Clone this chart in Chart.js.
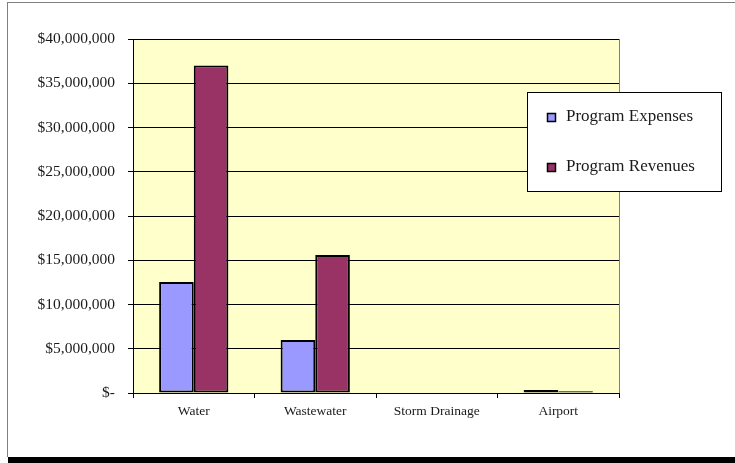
<!DOCTYPE HTML><html><head>
<meta name="viewport" content="width=device-width, initial-scale=1">
<style>
    html, body {
      margin: 0px;
      padding: 0px;
      background: #ffffff;
      overflow: hidden;
    }
    .frame {
      position: absolute;
      left: 7px;
      top: 2px;
      width: 800px;
      height: 454px;
      border-left: 1px solid #7f7f7f;
      border-top: 1px solid #7f7f7f;
    }
    .shadow {
      position: absolute;
      left: 8px;
      top: 457px;
      width: 800px;
      height: 6px;
      background: #000000;
    }
    .wrap {
      position: absolute;
      left: 0px;
      top: 0px;
      width: 735px;
      height: 463px;
    }
</style>
</head>
<body>

<div class="frame"></div>
<div class="shadow"></div>
<div class="wrap"><canvas id="myChart"></canvas></div>

<script src="https://cdn.jsdelivr.net/npm/chart.js@4/dist/chart.umd.min.js"></script>
<script>
// program totals in dollars
var categories = ['Water', 'Wastewater', 'Storm Drainage', 'Airport'];
var expenses = [12550000, 6000000, 0, 350000];
var revenues = [37000000, 15600000, 0, 200000];
var seriesNames = ['Program Expenses', 'Program Revenues'];
var seriesColors = ['#9999ff', '#993366'];
var yMax = 40000000;
var yStep = 5000000;

var serif = "'Liberation Serif', 'DejaVu Serif', serif";
var ink = '#1a1a1a';

function money(v) {
    if (v === 0) return '$-';
    return '$' + v.toLocaleString('en-US');
}

// yellow plot background with grey edge
var plotBack = {
    id: 'plotBack',
    beforeDraw: function(chart) {
        var a = chart.chartArea, c = chart.ctx;
        c.save();
        c.fillStyle = '#ffffcc';
        c.fillRect(a.left, a.top, a.right - a.left, a.bottom - a.top);
        c.strokeStyle = '#808080';
        c.lineWidth = 1;
        c.strokeRect(a.left + 0.5, a.top + 0.5, a.right - a.left, a.bottom - a.top);
        c.restore();
    }
};

// boxed legend sitting over the right side of the plot
var boxLegend = {
    id: 'boxLegend',
    afterDraw: function(chart) {
        var c = chart.ctx;
        var x = 527, y = 92, w = 194, h = 99;
        c.save();
        c.fillStyle = '#ffffff';
        c.fillRect(x, y, w, h);
        c.strokeStyle = '#000000';
        c.lineWidth = 1;
        c.strokeRect(x + 0.5, y + 0.5, w, h);
        c.font = '17px ' + serif;
        c.textBaseline = 'middle';
        chart.data.datasets.forEach(function(ds, i) {
            var cy = 117 + i * 50;
            c.fillStyle = ds.backgroundColor;
            c.fillRect(547, cy - 4, 9, 9);
            c.lineWidth = 1.5;
            c.strokeRect(547.5, cy - 3.5, 8, 8);
            c.fillStyle = ink;
            c.fillText(ds.label, 566, cy);
        });
        c.restore();
    }
};

var ctx = document.getElementById('myChart');
var myChart = new Chart(ctx, {
    type: 'bar',
    data: {
        labels: categories,
        datasets: [{
            label: seriesNames[0],
            data: expenses,
            backgroundColor: seriesColors[0],
            borderColor: '#000000',
            borderWidth: 2,
            borderSkipped: false
        }, {
            label: seriesNames[1],
            data: revenues,
            backgroundColor: seriesColors[1],
            borderColor: '#000000',
            borderWidth: 2,
            borderSkipped: false
        }]
    },
    plugins: [plotBack, boxLegend],
    options: {
        responsive: true,
        maintainAspectRatio: false,
        animation: false,
        layout: { padding: { top: 39, right: 116, bottom: 0, left: 0 } },
        datasets: {
            bar: { categoryPercentage: 0.57, barPercentage: 1.0 }
        },
        plugins: {
            legend: { display: false },
            tooltip: { enabled: false }
        },
        scales: {
            x: {
                afterFit: function(s) { s.height = 70; },
                grid: {
                    offset: true,
                    drawOnChartArea: false,
                    drawTicks: true,
                    tickLength: 5,
                    tickColor: '#000000'
                },
                border: { display: true, color: '#000000' },
                ticks: {
                    color: ink,
                    padding: 5,
                    maxRotation: 0,
                    font: { family: serif, size: 13.5 }
                }
            },
            y: {
                min: 0,
                max: yMax,
                afterFit: function(s) { s.width = 133; },
                grid: {
                    color: '#000000',
                    lineWidth: 1,
                    drawTicks: true,
                    tickLength: 5,
                    tickColor: '#000000'
                },
                border: { display: true, color: '#000000' },
                ticks: {
                    stepSize: yStep,
                    color: ink,
                    padding: 13,
                    font: { family: serif, size: 15.5 },
                    callback: function(v) { return money(v); }
                }
            }
        }
    }
});
</script>

</body></html>
